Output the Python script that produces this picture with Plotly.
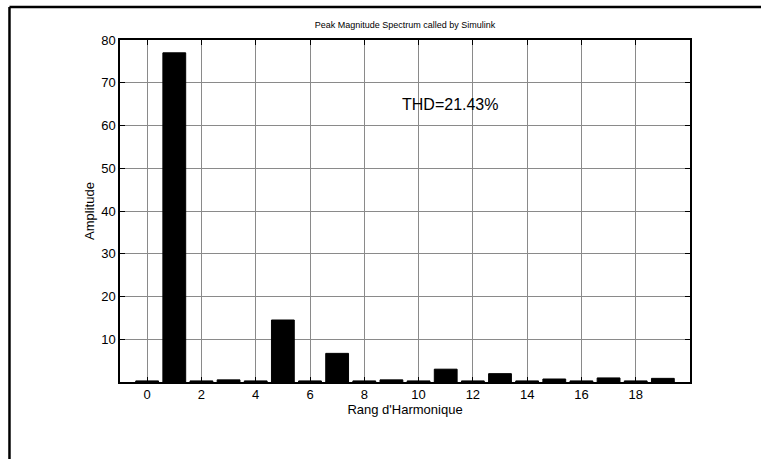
import plotly.graph_objects as go

# Harmonic spectrum of the simulated signal
harmonics = list(range(20))
amplitudes = [0.25, 77.0, 0.25, 0.5, 0.25, 14.5, 0.25, 6.7, 0.25, 0.5,
              0.25, 3.0, 0.25, 1.95, 0.25, 0.7, 0.25, 0.95, 0.25, 0.85]
x_ticks = list(range(0, 20, 2))
y_ticks = list(range(10, 90, 10))
thd_text = "THD=21.43%"
title_text = "Peak Magnitude Spectrum called by Simulink"

FONT = "Liberation Sans Narrow, Arial Narrow, Liberation Sans, Arial, sans-serif"

fig = go.Figure(
    go.Bar(
        x=harmonics,
        y=amplitudes,
        width=0.84,
        marker=dict(color="black", line=dict(color="black", width=1)),
    )
)

axis_common = dict(
    showline=True,
    linecolor="black",
    linewidth=1.5,
    mirror="ticks",
    ticks="inside",
    ticklen=5,
    tickcolor="black",
    showgrid=True,
    gridcolor="#8a8a8a",
    gridwidth=1,
    zeroline=False,
    tickfont=dict(family=FONT, size=13, color="black"),
)

fig.update_xaxes(
    range=[-1, 20],
    tickvals=x_ticks,
    title=dict(text="Rang d'Harmonique", font=dict(family=FONT, size=13, color="black"), standoff=4),
    **axis_common,
)
fig.update_yaxes(
    range=[0, 80],
    tickvals=y_ticks,
    title=dict(text="Amplitude", font=dict(family=FONT, size=13, color="black"), standoff=4),
    **axis_common,
)

fig.add_annotation(
    x=9.3, y=65, xref="x", yref="y",
    text=thd_text, showarrow=False, xanchor="left", yanchor="middle",
    font=dict(family=FONT, size=16, color="black"),
)

# Outer frame of the figure window
fig.add_shape(type="line", xref="paper", yref="paper",
              x0=-0.1939, x1=1.2, y0=1.0965, y1=1.0965,
              line=dict(color="black", width=2.5))
fig.add_shape(type="line", xref="paper", yref="paper",
              x0=-0.1939, x1=-0.1939, y0=1.0965, y1=-0.3,
              line=dict(color="black", width=2.5))

fig.update_layout(
    width=761,
    height=459,
    margin=dict(l=120, r=71, t=40, b=77),
    paper_bgcolor="white",
    plot_bgcolor="white",
    showlegend=False,
    title=dict(text=title_text, x=0.5, xanchor="center", xref="paper",
               y=1 - 25 / 459, yref="container", yanchor="middle",
               font=dict(family=FONT, size=9, color="black")),
    font=dict(family=FONT, color="black"),
)

fig.write_html("out.html")
